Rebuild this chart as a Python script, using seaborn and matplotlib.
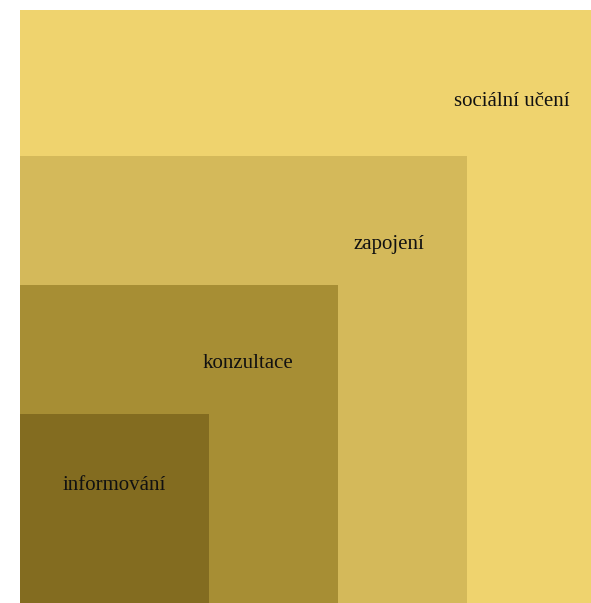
import matplotlib.pyplot as plt
from matplotlib.patches import Rectangle
import seaborn as sns

# levels of participation, innermost first
levels = ['informování', 'konzultace', 'zapojení', 'sociální učení']
sizes = [189, 318, 447, 593]
colors = ['#836C20', '#A78E34', '#D4B95A', '#EFD36E']
# label centres (data units, origin bottom-left)
label_x = [94, 228, 369, 492]
label_y = [117, 239, 359, 502]

sns.set_theme(style='white')
plt.rcParams['font.family'] = ['Liberation Serif', 'DejaVu Serif']

fig = plt.figure(figsize=(5.91, 6.03), dpi=100)
ax = fig.add_axes([20 / 591, 0, 571 / 591, 593 / 603])
ax.set_xlim(0, 571)
ax.set_ylim(0, 593)
ax.axis('off')

# draw from largest to smallest so the smaller squares sit on top
for name, s, c in reversed(list(zip(levels, sizes, colors))):
    ax.add_patch(Rectangle((0, 0), s, s, facecolor=c, edgecolor='none'))

for name, x, y in zip(levels, label_x, label_y):
    ax.text(x, y, name, ha='center', va='center', fontsize=15, color='#111111')

fig.savefig('out.png', dpi=100)
